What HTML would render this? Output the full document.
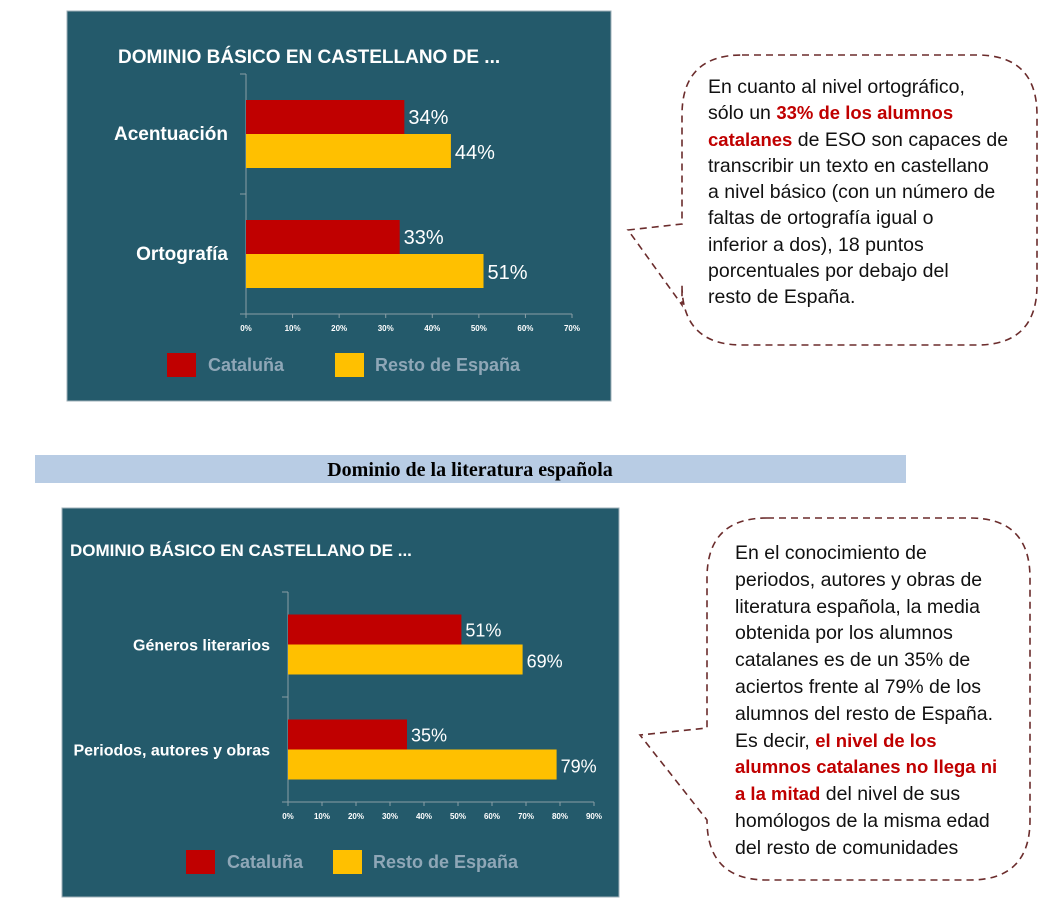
<!DOCTYPE html>
<html><head><meta charset="utf-8">
<style>
body{margin:0;width:1059px;height:899px;background:#fff;position:relative;overflow:hidden;font-family:"Liberation Sans",sans-serif;}
svg{position:absolute;left:0;top:0;}
.txt{position:absolute;font-size:19.5px;line-height:26.3px;color:#111;white-space:nowrap;}
.red{color:#c00000;font-weight:bold;font-size:18.5px;}
</style></head>
<body>
<svg id="s" width="1059" height="899"></svg>
<div class="txt" style="left:708px;top:74px;">En cuanto al nivel ortográfico,<br>sólo un <span class="red">33% de los alumnos</span><br><span class="red">catalanes</span> de ESO son capaces de<br>transcribir un texto en castellano<br>a nivel básico (con un número de<br>faltas de ortografía igual o<br>inferior a dos), 18 puntos<br>porcentuales por debajo del<br>resto de España.</div>
<div class="txt" style="left:735px;top:540px;line-height:26.8px;">En el conocimiento de<br>periodos, autores y obras de<br>literatura española, la media<br>obtenida por los alumnos<br>catalanes es de un 35% de<br>aciertos frente al 79% de los<br>alumnos del resto de España.<br>Es decir, <span class="red">el nivel de los</span><br><span class="red">alumnos catalanes no llega ni</span><br><span class="red">a la mitad</span> del nivel de sus<br>homólogos de la misma edad<br>del resto de comunidades</div>
<script>
const cats1=["Acentuación","Ortografía"];
const cat1Vals=[34,33];
const rest1Vals=[44,51];
const ticks1=["0%","10%","20%","30%","40%","50%","60%","70%"];
const cats2=["Géneros literarios","Periodos, autores y obras"];
const cat2Vals=[51,35];
const rest2Vals=[69,79];
const ticks2=["0%","10%","20%","30%","40%","50%","60%","70%","80%","90%"];

const NS="http://www.w3.org/2000/svg";
const s=document.getElementById('s');
function mk(tag,at,txt){const e=document.createElementNS(NS,tag);for(const k in at)e.setAttribute(k,at[k]);if(txt!=null)e.textContent=txt;s.appendChild(e);return e;}

function chart(o){
  let e=mk('rect',{x:o.px,y:o.py,width:o.pw,height:o.ph,fill:'#245a6b',stroke:'#9fb0b8','stroke-width':1});
  
  
  e=mk('text',{x:o.tx,y:o.ty,fill:'#fff','font-size':o.tfs,'font-weight':'bold','font-family':'Liberation Sans'},'DOMINIO BÁSICO EN CASTELLANO DE ...');
  
  
  const n=o.ticks.length-1;
  const x=v=>o.x0+(v/(n*10))*(o.x1-o.x0);
  const band=(o.yb-o.yt)/o.cats.length;
  e=mk('line',{x1:o.x0,y1:o.yt,x2:o.x0,y2:o.yb,stroke:'#8a9ea6','stroke-width':1});
  
  
  e=mk('line',{x1:o.x0,y1:o.yb,x2:o.x1,y2:o.yb,stroke:'#8a9ea6','stroke-width':1});
  
  
  for(let i=0;i<=o.cats.length;i++){mk('line',{x1:o.x0-6,x2:o.x0,y1:o.yt+i*band,y2:o.yt+i*band,stroke:'#8a9ea6'});}
  o.ticks.forEach((t,i)=>{const tx=o.x0+i*(o.x1-o.x0)/n;
    mk('line',{x1:tx,x2:tx,y1:o.yb,y2:o.yb+4,stroke:'#8a9ea6'});
    e=mk('text',{x:tx,y:o.yb+17,fill:'#fff','font-size':8,'font-weight':'bold','text-anchor':'middle'},t);
    
    
  });
  o.cats.forEach((c,i)=>{
    const cy=o.yt+band*(i+0.5);
    const bh=o.bh;
    e=mk('rect',{x:o.x0,y:cy-bh,width:x(o.a[i])-o.x0,height:bh,fill:'#c00000'});
    
    
    e=mk('rect',{x:o.x0,y:cy,width:x(o.b[i])-o.x0,height:bh,fill:'#ffc000'});
    
    
    e=mk('text',{x:x(o.a[i])+4,y:cy-bh/2+7,fill:'#fff','font-size':o.vfs},o.a[i]+'%');
    
    
    e=mk('text',{x:x(o.b[i])+4,y:cy+bh/2+8,fill:'#fff','font-size':o.vfs},o.b[i]+'%');
    
    
    e=mk('text',{x:o.x0-18,y:cy+6,fill:'#fff','font-size':o.cfs,'font-weight':'bold','text-anchor':'end'},c);
    
    
  });
  e=mk('rect',{x:o.l1,y:o.ly-12,width:29,height:24,fill:'#c00000'});
  
  
  e=mk('text',{x:o.l1+41,y:o.ly+6,fill:'#8fa7b7','font-size':18,'font-weight':'bold'},'Cataluña');
  
  
  e=mk('rect',{x:o.l2,y:o.ly-12,width:29,height:24,fill:'#ffc000'});
  
  
  e=mk('text',{x:o.l2+40,y:o.ly+6,fill:'#8fa7b7','font-size':18,'font-weight':'bold'},'Resto de España');
  
  
}
chart({id:'chart1',px:67,py:11,pw:544,ph:390,tx:118,ty:63,tfs:19,x0:246,x1:572,yt:74,yb:314,cats:cats1,a:cat1Vals,b:rest1Vals,ticks:ticks1,bh:34,vfs:20,cfs:19,l1:167,l2:335,ly:365});
chart({id:'chart2',px:62,py:508,pw:557,ph:389,tx:70,ty:556,tfs:17,x0:288,x1:594,yt:592,yb:802,cats:cats2,a:cat2Vals,b:rest2Vals,ticks:ticks2,bh:30,vfs:18,cfs:16,l1:186,l2:333,ly:862});

let e=mk('rect',{x:35,y:455,width:871,height:28,fill:'#b8cce4'});


e=mk('text',{x:470,y:476,'text-anchor':'middle','font-family':'Liberation Serif','font-weight':'bold','font-size':20,fill:'#000'},'Dominio de la literatura española');



function bubble(L,T,R,B,tipx,tipy,j1,j2,r,name){
  const d=`M${L+r},${T} H${R-r} Q${R},${T} ${R},${T+r} V${B-r} Q${R},${B} ${R-r},${B} H${L+r} Q${L},${B} ${L},${B-r} V${j2} L${tipx},${tipy} L${L},${j1} V${T+r} Q${L},${T} ${L+r},${T} Z`;
  const e=mk('path',{d:d,fill:'none',stroke:'#6b2c2c','stroke-width':1.6,'stroke-dasharray':'7 5'});
  
  
}
bubble(682,55,1037,345,628,230,224,305,60,'speech-bubble-1');
bubble(707,518,1030,880,640,735,728,820,60,'speech-bubble-2');
</script>
</body></html>
